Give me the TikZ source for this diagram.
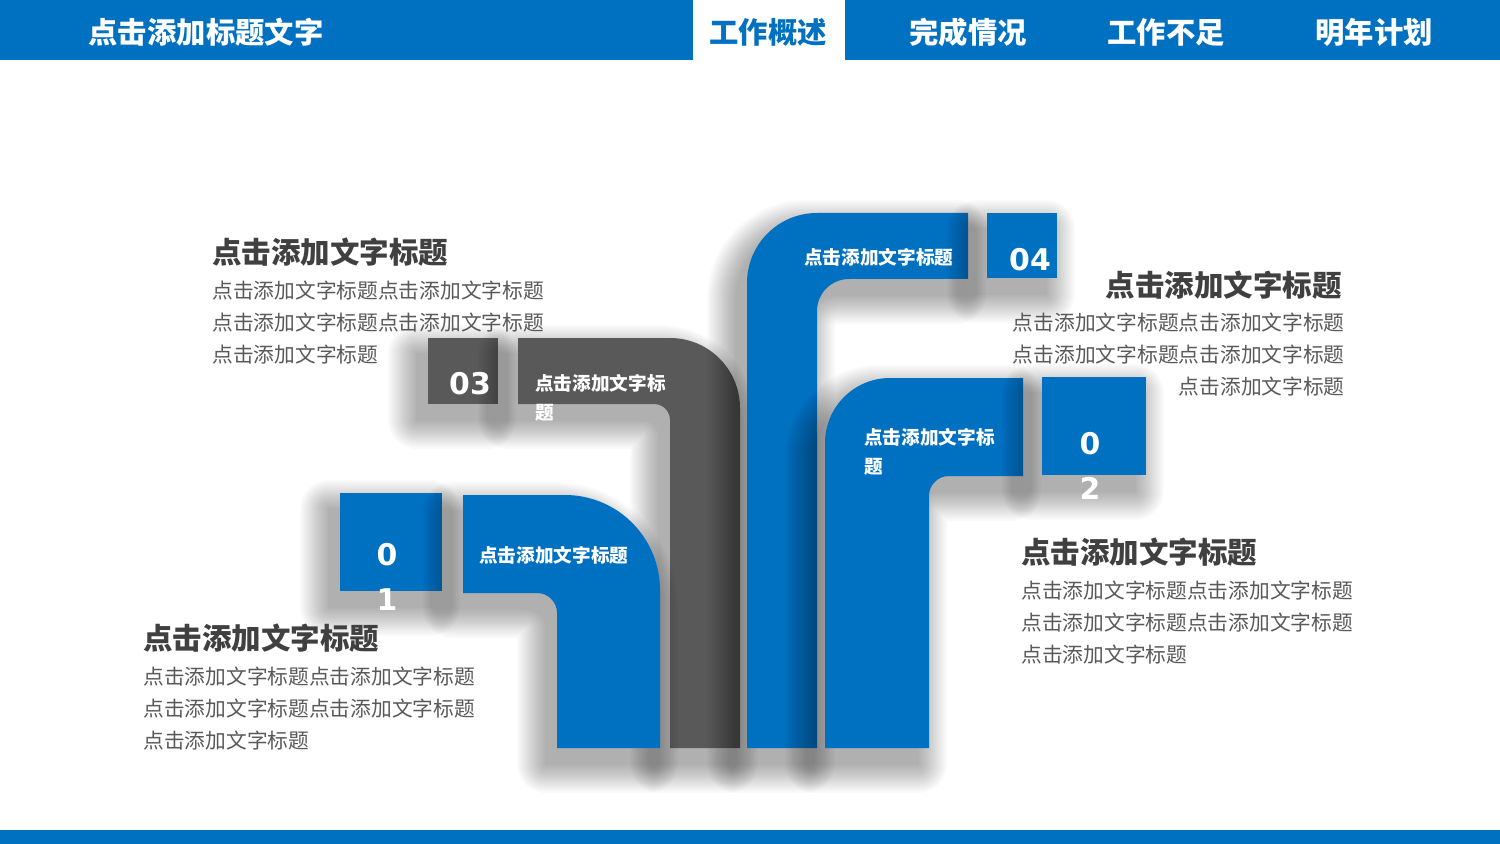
\documentclass[tikz,border=0pt]{standalone}
\usepackage{fontspec}
\setmainfont{Noto Sans CJK SC}
\newfontfamily\numfont{DejaVu Sans}
\definecolor{mainblue}{HTML}{0070C0}
\definecolor{darkgray}{HTML}{595959}
\definecolor{headgray}{HTML}{404040}
\definecolor{bodygray}{HTML}{595959}
\newcommand\softshadow[1]{%
  \foreach \w in {1,3,...,33}{%
    \begin{scope}[transparency group,opacity=0.021]
      \filldraw[black,line width=\w pt,line join=round,shift={(-11,16)}] #1;
    \end{scope}}}
\newcommand\pathOne{(463,495) -- (565,495) arc[start angle=-90,end angle=0,radius=95] -- (660,748) -- (557,748) -- (557,613) arc[start angle=0,end angle=-90,radius=20] -- (463,593) -- cycle}
\newcommand\pathThree{(518,338) -- (670,338) arc[start angle=-90,end angle=0,radius=70] -- (740,748) -- (670,748) -- (670,420) arc[start angle=0,end angle=-90,radius=16] -- (518,404) -- cycle}
\newcommand\pathFour{(968,213) -- (817,213) arc[start angle=-90,end angle=-180,radius=70] -- (747,748) -- (817,748) -- (817,311) arc[start angle=180,end angle=270,radius=32] -- (968,279) -- cycle}
\newcommand\pathTwo{(1023,378) -- (890,378) arc[start angle=-90,end angle=-180,radius=65] -- (825,748) -- (929,748) -- (929,496) arc[start angle=180,end angle=270,radius=20] -- (1023,476) -- cycle}
\newcommand\boxOne{(340,493) rectangle (442,591)}
\newcommand\boxThree{(428,338) rectangle (498,404)}
\newcommand\boxFour{(987,213) rectangle (1057,278)}
\newcommand\boxTwo{(1042,377) rectangle (1146,475)}
\begin{document}
\begin{tikzpicture}[x=0.02cm,y=-0.02cm,
  heading/.style={text=headgray,font=\fontsize{16.8}{20}\selectfont\bfseries,inner sep=0},
  body/.style={text=bodygray,font=\fontsize{11.8}{18.2}\selectfont,inner sep=0},
  tabtext/.style={font=\fontsize{16.7}{20}\selectfont\bfseries,inner sep=0},
  elbowtext/.style={text=white,font=\fontsize{10.6}{16.5}\selectfont\bfseries,inner sep=0,align=left},
  numtext/.style={text=white,font=\numfont\fontsize{17}{26}\selectfont\bfseries,inner sep=0,align=center}]
\useasboundingbox (0,0) rectangle (1500,844);
\fill[white] (0,0) rectangle (1500,844);
% header
\fill[mainblue] (0,0) rectangle (1500,60);
\fill[white] (693,0) rectangle (845,60);
\fill[mainblue] (0,830) rectangle (1500,844);
\node[tabtext,text=white] (title) at (206,32) {点击添加标题文字};
\node[tabtext,text=mainblue] (tab1) at (768,32) {工作概述};
\node[tabtext,text=white] (tab2) at (968,32) {完成情况};
\node[tabtext,text=white] (tab3) at (1166,32) {工作不足};
\node[tabtext,text=white] (tab4) at (1374,32) {明年计划};
% group 03
\softshadow{\boxThree}
\fill[darkgray] \boxThree;
\softshadow{\pathThree}
\fill[darkgray] \pathThree;
% group 04
\softshadow{\pathFour}
\fill[mainblue] \pathFour;
\softshadow{\boxFour}
\fill[mainblue] \boxFour;
% group 02
\softshadow{\pathTwo}
\fill[mainblue] \pathTwo;
\softshadow{\boxTwo}
\fill[mainblue] \boxTwo;
% group 01
\softshadow{\boxOne}
\fill[mainblue] \boxOne;
\softshadow{\pathOne}
\fill[mainblue] \pathOne;
% labels on shapes
\node[numtext] (n3) at (470,384) {03};
\node[numtext] (n4) at (1030,260) {04};
\node[numtext] (n1) at (387,577) {0\\1};
\node[numtext] (n2) at (1090,466) {0\\2};
\node[elbowtext,anchor=west] (e4) at (804,257) {点击添加文字标题};
\node[elbowtext,anchor=west] (e3) at (535,398) {点击添加文字标\\题};
\node[elbowtext,anchor=west] (e2) at (864,452) {点击添加文字标\\题};
\node[elbowtext,anchor=west] (e1) at (479,555) {点击添加文字标题};
% text blocks
\node[heading,anchor=west] (h3) at (212,252) {点击添加文字标题};
\node[body,anchor=west,align=left] (b3) at (212,323) {点击添加文字标题点击添加文字标题\\点击添加文字标题点击添加文字标题\\点击添加文字标题};
\node[heading,anchor=east] (h4) at (1342,285) {点击添加文字标题};
\node[body,anchor=east,align=right] (b4) at (1345,355) {点击添加文字标题点击添加文字标题\\点击添加文字标题点击添加文字标题\\点击添加文字标题};
\node[heading,anchor=west] (h2) at (1021,552) {点击添加文字标题};
\node[body,anchor=west,align=left] (b2) at (1021,623) {点击添加文字标题点击添加文字标题\\点击添加文字标题点击添加文字标题\\点击添加文字标题};
\node[heading,anchor=west] (h1) at (143,638) {点击添加文字标题};
\node[body,anchor=west,align=left] (b1) at (143,709) {点击添加文字标题点击添加文字标题\\点击添加文字标题点击添加文字标题\\点击添加文字标题};
\end{tikzpicture}
\end{document}
